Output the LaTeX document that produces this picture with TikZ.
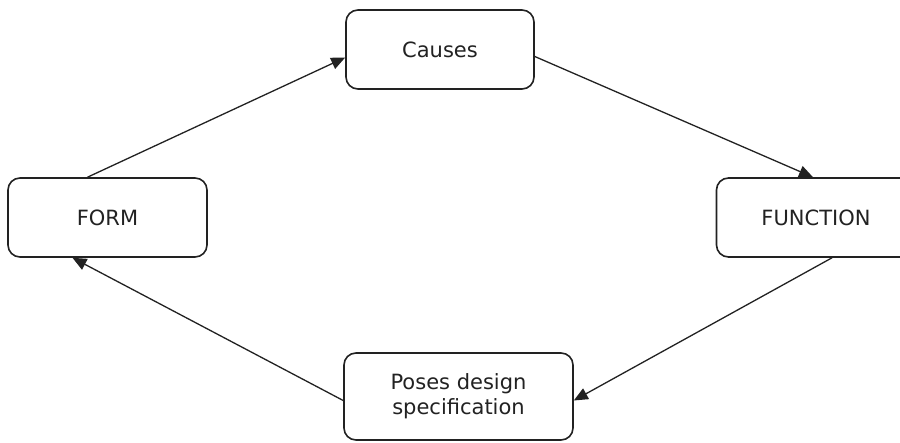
\documentclass[tikz,border=0pt]{standalone}
\usepackage{fontspec}
\setmainfont{DejaVu Sans}
\usetikzlibrary{arrows.meta}
\definecolor{ink}{HTML}{222222}
\begin{document}
\begin{tikzpicture}[x=1pt,y=-1pt,
  box/.style={draw=ink, line width=1.6pt, rounded corners=12pt, fill=white,
    align=center, text=ink, font=\fontsize{21}{25}\selectfont, inner sep=0pt},
  link/.style={draw=ink, line width=1.3pt, -{Triangle[length=14pt,width=12pt]}}]
  \useasboundingbox[fill=white] (0,0) rectangle (900,442);

  % the four stages of the cycle
  \node[box, minimum width=188pt, minimum height=79pt] (causes) at (440,49.5) {Causes};
  \node[box, minimum width=199pt, minimum height=79pt] (form) at (107.5,217.5) {FORM};
  \node[box, minimum width=199pt, minimum height=79pt] (function) at (816,217.5) {FUNCTION};
  \node[box, minimum width=229pt, minimum height=87pt] (poses) at (458.5,396.5) {Poses design\\specification};

  % connectors running clockwise
  \draw[link] ([xshift=-20pt]form.north) -- ([yshift=-8pt]causes.west);
  \draw[link] ([yshift=-7pt]causes.east) -- ([xshift=-3pt]function.north);
  \draw[link] ([xshift=16pt]function.south) -- ([yshift=-4pt]poses.east);
  \draw[link] ([yshift=-4pt]poses.west) -- ([xshift=-35pt]form.south);
\end{tikzpicture}
\end{document}
